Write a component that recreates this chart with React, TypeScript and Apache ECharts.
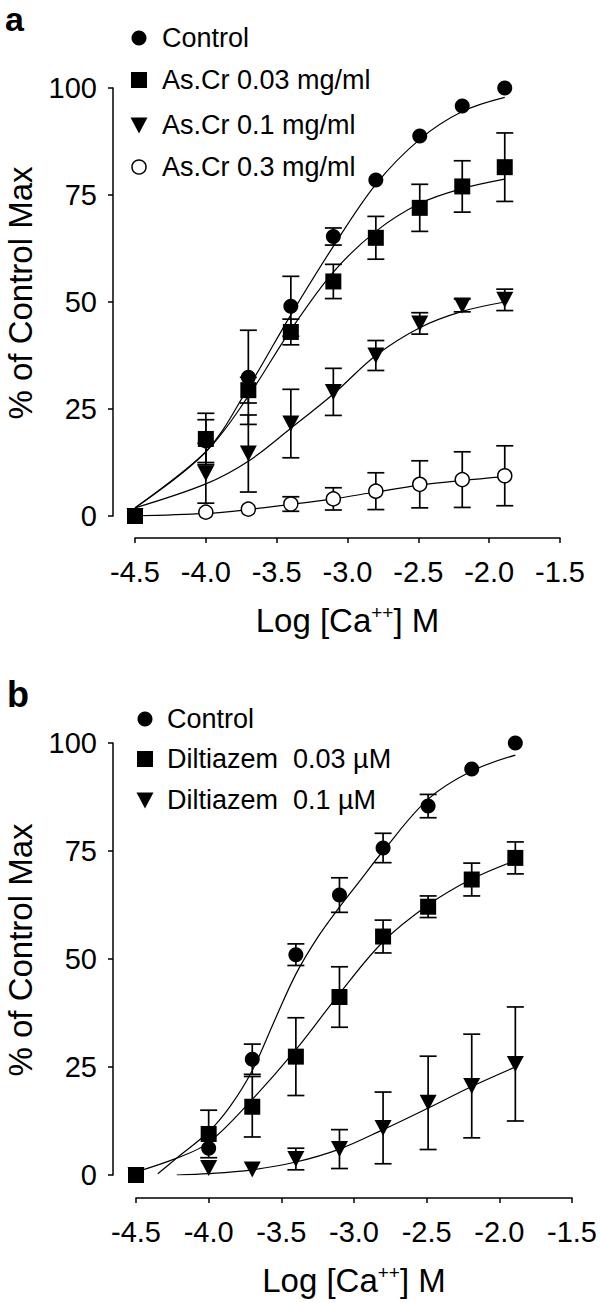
import React, { useEffect, useRef } from "react";
import * as echarts from "echarts";

const FONT = "'Liberation Sans', Arial, Helvetica, sans-serif";

// log [Ca++] M concentrations
const X_CA = [-4.5, -4.0, -3.7, -3.4, -3.1, -2.8, -2.49, -2.19, -1.89];

// ---------- Panel a ----------
const A_NAMES = ["Control", "As.Cr 0.03 mg/ml", "As.Cr 0.1 mg/ml", "As.Cr 0.3 mg/ml"];
const A_CONTROL = [0, 17.5, 32.4, 49, 65.3, 78.5, 88.8, 95.8, 100];
const A_CONTROL_ERR = [0, 5, 11, 7, 2, 0, 0, 0, 0];
const A_C003 = [0, 18, 29.4, 43, 54.8, 65, 72, 77, 81.5];
const A_C003_ERR = [0, 6, 3, 3, 4, 5, 5.5, 6, 8];
const A_C01 = [0, 10, 14.6, 21.6, 29, 37.5, 45, 49.2, 50.5];
const A_C01_ERR = [0, 7, 9, 8, 5.5, 3.5, 2.5, 1.5, 2.5];
const A_C03 = [0, 0.9, 1.6, 2.8, 4, 5.8, 7.4, 8.5, 9.4];
const A_C03_ERR = [0, 0, 0, 1.7, 2.6, 4.3, 5.5, 6.5, 7];
// fitted curves
const A_FIT_X = [-4.5, -4.0, -3.7, -3.4, -3.1, -2.8, -2.49, -2.19, -1.89];
const A_CONTROL_FIT = [1.9, 15, 30, 47, 63, 77.5, 88, 94.5, 97.8];
const A_C003_FIT = [1.9, 15, 28, 43.5, 57, 66.5, 73, 76.5, 78.7];
const A_C01_FIT = [1.9, 7.5, 12.8, 20.5, 28.5, 37.5, 44, 47.8, 50];
const A_C03_FIT = [0, 0.6, 1.5, 2.7, 4, 5.6, 7.2, 8.3, 9.2];

// ---------- Panel b ----------
const B_NAMES = ["Control", "Diltiazem  0.03 µM", "Diltiazem  0.1 µM"];
const B_CONTROL = [0, 6.2, 26.8, 51, 64.8, 75.7, 85.4, 94, 100];
const B_CONTROL_ERR = [0, 0, 3.5, 2.5, 4, 3.4, 2.7, 0, 0];
const B_D003 = [0, 9.5, 15.8, 27.4, 41.2, 55.2, 62.1, 68.4, 73.4];
const B_D003_ERR = [0, 5.5, 7, 9, 7, 3.8, 2.5, 3.8, 3.7];
const B_D01 = [0, 1.6, 1.3, 3.7, 6, 10.9, 16.7, 20.6, 25.7];
const B_D01_ERR = [0, 0, 0, 2.5, 4.5, 8.3, 10.8, 12, 13.2];
const B_CONTROL_FIT_X = [-4.35, -4.22, -4.0, -3.85, -3.7, -3.55, -3.4, -3.25, -3.1, -2.95, -2.8, -2.49, -2.19, -1.89];
const B_CONTROL_FIT = [0.3, 3.9, 10, 16, 24.2, 35.5, 46.5, 55, 62, 68.5, 75, 87, 93.5, 97.2];
const B_D003_FIT_X = [-4.5, -4.22, -4.0, -3.7, -3.4, -3.1, -2.8, -2.49, -2.19, -1.89];
const B_D003_FIT = [0.7, 3.9, 7.5, 17.5, 29, 42, 54, 62.5, 68.5, 72.8];
const B_D01_FIT_X = [-4.22, -4.0, -3.7, -3.4, -3.1, -2.8, -2.49, -2.19, -1.89];
const B_D01_FIT = [0, 0.3, 1.2, 3, 6, 10.5, 15.5, 20.5, 25];

const pairs = (xs: number[], ys: number[]) => xs.map((x, i) => [x, ys[i]]);
const errData = (xs: number[], ys: number[], es: number[]) =>
  xs.map((x, i) => [x, ys[i] - es[i], ys[i] + es[i]]).filter((_, i) => es[i] > 0);

const BLACK = "#000";

function fitSeries(idx: number, xs: number[], ys: number[]) {
  return {
    type: "line",
    xAxisIndex: idx,
    yAxisIndex: idx,
    data: pairs(xs, ys),
    smooth: 0.35,
    showSymbol: false,
    symbol: "none",
    lineStyle: { color: BLACK, width: 1.2 },
    z: 1,
    silent: true,
  };
}

function errSeries(idx: number, xs: number[], ys: number[], es: number[]) {
  return {
    type: "custom",
    xAxisIndex: idx,
    yAxisIndex: idx,
    data: errData(xs, ys, es),
    encode: { x: 0, y: [1, 2] },
    z: 2,
    silent: true,
    renderItem: (params: any, api: any) => {
      const x = api.value(0);
      const lo = api.coord([x, api.value(1)]);
      const hi = api.coord([x, api.value(2)]);
      const hw = 8.5;
      const st = { stroke: BLACK, lineWidth: 1.7 };
      return {
        type: "group",
        children: [
          { type: "line", shape: { x1: hi[0], y1: hi[1], x2: lo[0], y2: lo[1] }, style: st },
          { type: "line", shape: { x1: hi[0] - hw, y1: hi[1], x2: hi[0] + hw, y2: hi[1] }, style: st },
          { type: "line", shape: { x1: lo[0] - hw, y1: lo[1], x2: lo[0] + hw, y2: lo[1] }, style: st },
        ],
      };
    },
  };
}

function pointSeries(idx: number, name: string, ys: number[], kind: string) {
  const base: any = {
    type: "scatter",
    name,
    xAxisIndex: idx,
    yAxisIndex: idx,
    data: pairs(X_CA, ys),
    z: 3,
    itemStyle: { color: BLACK, opacity: 1 },
  };
  if (kind === "circle") {
    base.symbol = "circle";
    base.symbolSize = 15;
  } else if (kind === "square") {
    base.symbol = "rect";
    base.symbolSize = 16;
  } else if (kind === "tri") {
    base.symbol = "triangle";
    base.symbolSize = [17, 16];
    base.symbolRotate = 180;
  } else {
    base.symbol = "circle";
    base.symbolSize = 14;
    base.itemStyle = { color: "#fff", borderColor: BLACK, borderWidth: 1.5, opacity: 1 };
  }
  return base;
}

function legendRows(x: number, tx: number, ys: number[], names: string[], kinds: string[]) {
  const els: any[] = [];
  ys.forEach((y, i) => {
    const k = kinds[i];
    if (k === "circle") els.push({ type: "circle", shape: { cx: x, cy: y, r: 7.5 }, style: { fill: BLACK } });
    else if (k === "open")
      els.push({ type: "circle", shape: { cx: x, cy: y, r: 7 }, style: { fill: "#fff", stroke: BLACK, lineWidth: 1.5 } });
    else if (k === "square")
      els.push({ type: "rect", shape: { x: x - 8, y: y - 8, width: 16, height: 16 }, style: { fill: BLACK } });
    else
      els.push({
        type: "polygon",
        shape: { points: [[x - 8.5, y - 7.5], [x + 8.5, y - 7.5], [x, y + 8.5]] },
        style: { fill: BLACK },
      });
    els.push({
      type: "text",
      x: tx,
      y,
      style: { text: names[i], fontSize: 27, fontFamily: FONT, fill: BLACK, align: "left", verticalAlign: "middle" },
    });
  });
  return els;
}

const AXIS_LINE = { show: true, onZero: false, lineStyle: { color: BLACK, width: 1.5 } };
const AXIS_TICK = { show: true, length: 5, lineStyle: { color: BLACK, width: 1.5 } };

function xAxis(idx: number, offset: number) {
  return {
    type: "value",
    gridIndex: idx,
    min: -4.5,
    max: -1.5,
    interval: 0.5,
    offset,
    axisLine: AXIS_LINE,
    axisTick: AXIS_TICK,
    splitLine: { show: false },
    axisLabel: {
      color: BLACK,
      fontSize: 29,
      fontFamily: FONT,
      margin: 19,
      formatter: (v: number) => v.toFixed(1),
    },
    name: "{a|Log [Ca}{s|++}{a|] M}",
    nameLocation: "middle",
    nameGap: 65,
    nameTextStyle: {
      color: BLACK,
      fontFamily: FONT,
      rich: {
        a: { fontSize: 33, fontFamily: FONT, color: BLACK, lineHeight: 34 },
        s: { fontSize: 19, fontFamily: FONT, color: BLACK, verticalAlign: "top", lineHeight: 18 },
      },
    },
  };
}

function yAxis(idx: number, offset: number) {
  return {
    type: "value",
    gridIndex: idx,
    min: 0,
    max: 100,
    interval: 25,
    offset,
    axisLine: AXIS_LINE,
    axisTick: AXIS_TICK,
    splitLine: { show: false },
    axisLabel: { color: BLACK, fontSize: 29, fontFamily: FONT, margin: 16 },
  };
}

export default function App() {
  const ref = useRef<HTMLDivElement>(null);
  useEffect(() => {
    document.body.style.margin = "0";
    const chart = echarts.init(ref.current!, undefined, { renderer: "svg" });
    const option: any = {
      animation: false,
      backgroundColor: "#fff",
      textStyle: { fontFamily: FONT },
      grid: [
        { left: 135, top: 88, width: 425, height: 428 },
        { left: 136, top: 743, width: 440, height: 432 },
      ],
      xAxis: [xAxis(0, 22), xAxis(1, 23)],
      yAxis: [yAxis(0, 22), yAxis(1, 23)],
      series: [
        fitSeries(0, A_FIT_X, A_CONTROL_FIT),
        fitSeries(0, A_FIT_X, A_C003_FIT),
        fitSeries(0, A_FIT_X, A_C01_FIT),
        fitSeries(0, A_FIT_X, A_C03_FIT),
        errSeries(0, X_CA, A_CONTROL, A_CONTROL_ERR),
        errSeries(0, X_CA, A_C003, A_C003_ERR),
        errSeries(0, X_CA, A_C01, A_C01_ERR),
        errSeries(0, X_CA, A_C03, A_C03_ERR),
        pointSeries(0, A_NAMES[3], A_C03, "open"),
        pointSeries(0, A_NAMES[2], A_C01, "tri"),
        pointSeries(0, A_NAMES[0], A_CONTROL, "circle"),
        pointSeries(0, A_NAMES[1], A_C003, "square"),
        fitSeries(1, B_CONTROL_FIT_X, B_CONTROL_FIT),
        fitSeries(1, B_D003_FIT_X, B_D003_FIT),
        fitSeries(1, B_D01_FIT_X, B_D01_FIT),
        errSeries(1, X_CA, B_CONTROL, B_CONTROL_ERR),
        errSeries(1, X_CA, B_D003, B_D003_ERR),
        errSeries(1, X_CA, B_D01, B_D01_ERR),
        pointSeries(1, B_NAMES[2], B_D01, "tri"),
        pointSeries(1, B_NAMES[0], B_CONTROL, "circle"),
        pointSeries(1, B_NAMES[1], B_D003, "square"),
      ],
      graphic: {
        elements: [
          { type: "text", x: 5, y: 2, style: { text: "a", fontSize: 34, fontWeight: "bold", fontFamily: FONT, fill: BLACK, verticalAlign: "top" } },
          { type: "text", x: 7, y: 694, style: { text: "b", fontSize: 36, fontWeight: "bold", fontFamily: FONT, fill: BLACK, verticalAlign: "middle" } },
          {
            type: "text", x: 20, y: 293, rotation: Math.PI / 2,
            style: { text: "% of Control Max", fontSize: 33, fontFamily: FONT, fill: BLACK, align: "center", verticalAlign: "middle" },
          },
          {
            type: "text", x: 20, y: 950, rotation: Math.PI / 2,
            style: { text: "% of Control Max", fontSize: 33, fontFamily: FONT, fill: BLACK, align: "center", verticalAlign: "middle" },
          },
          ...legendRows(139, 162, [38, 80, 125, 167], A_NAMES, ["circle", "square", "tri", "open"]),
          ...legendRows(145, 167, [719, 759, 800], B_NAMES, ["circle", "square", "tri"]),
        ],
      },
    };
    chart.setOption(option);
    return () => chart.dispose();
  }, []);
  return <div ref={ref} style={{ width: 600, height: 1303 }} />;
}
